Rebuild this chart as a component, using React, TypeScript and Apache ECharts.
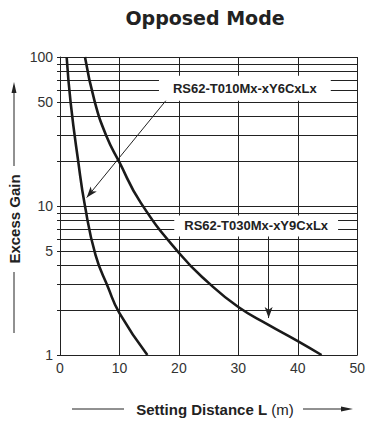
import React, { useEffect, useRef } from "react";
import * as echarts from "echarts";

// Curve RS62-T010Mx-xY6CxLx : setting distance (m) vs excess gain
const distanceT010 = [1.12, 1.8, 3.06, 4.18, 5.97, 8.08, 10, 14.7];
const gainT010 = [100, 49, 20, 10.1, 4.7, 2.85, 1.91, 1];
// Curve RS62-T030Mx-xY9CxLx
const distanceT030 = [4.2, 5.85, 7.8, 9.9, 13.6, 20.1, 25, 30, 35, 40, 44];
const gainT030 = [100, 50, 29.5, 20, 10.5, 4.8, 3.05, 2.1, 1.6, 1.24, 1];

const modelNames = ["RS62-T010Mx-xY6CxLx", "RS62-T030Mx-xY9CxLx"];
const gainGridValues = [1, 2, 3, 4, 5, 6, 7, 8, 9, 10, 20, 30, 40, 50, 60, 70, 80, 90, 100];
const gainLabelValues = [1, 5, 10, 50, 100];

// annotation anchors in data coordinates [distance, gain]
const labelT010 = [31.1, 61.6];
const labelT030 = [33.0, 7.35];
const arrowT010 = [[18.06, 52.4], [4.5, 11.4]];
const arrowT030 = [[35.1, 6.55], [35.1, 1.77]];

const zip = (xs: number[], ys: number[]) => xs.map((x, i) => [x, ys[i]]);

const FONT = "'Liberation Sans', Arial, sans-serif";
const INK = "#222";

export default function App() {
  const ref = useRef<HTMLDivElement>(null);
  useEffect(() => {
    if (!ref.current) return;
    const chart = echarts.init(ref.current, null, { renderer: "svg" });
    const curveStyle = { color: "#1a1a1a", width: 2.6 };
    chart.setOption({
      animation: false,
      grid: { left: 60, right: 9, top: 57, bottom: 69 },
      xAxis: {
        type: "value",
        min: 0,
        max: 50,
        interval: 10,
        axisLine: { show: true, lineStyle: { color: INK, width: 1 } },
        axisTick: { show: false },
        axisLabel: { color: "#333", fontSize: 14, fontFamily: FONT, margin: 6 },
        splitLine: { show: true, lineStyle: { color: INK, width: 1 } },
      },
      yAxis: {
        type: "log",
        logBase: 10,
        min: 1,
        max: 100,
        axisLine: { show: true, lineStyle: { color: INK, width: 1 } },
        axisTick: { show: true, length: 3, customValues: gainGridValues, lineStyle: { color: INK } },
        axisLabel: { customValues: gainLabelValues, color: "#333", fontSize: 14, fontFamily: FONT, margin: 7 },
        splitLine: { show: true, lineStyle: { color: INK, width: 1 } },
        minorTick: { show: false },
      },
      series: [
        {
          name: modelNames[0],
          type: "line",
          data: zip(distanceT010, gainT010),
          smooth: 0.5,
          symbol: "none",
          lineStyle: curveStyle,
          z: 3,
        },
        {
          name: modelNames[1],
          type: "line",
          data: zip(distanceT030, gainT030),
          smooth: 0.5,
          symbol: "none",
          lineStyle: curveStyle,
          z: 3,
        },
        {
          name: "annotations",
          type: "line",
          data: [],
          z: 4,
          markLine: {
            silent: true,
            symbol: ["none", "arrow"],
            symbolSize: [6, 11],
            label: { show: false },
            lineStyle: { color: INK, width: 1, type: "solid" },
            emphasis: { disabled: true },
            data: [
              [{ coord: arrowT010[0] }, { coord: arrowT010[1] }],
              [{ coord: arrowT030[0] }, { coord: arrowT030[1] }],
            ],
          },
          markPoint: {
            silent: true,
            symbol: "circle",
            symbolSize: 0,
            label: {
              show: true,
              position: "inside",
              formatter: (p: any) => p.name,
              color: INK,
              fontWeight: "bold",
              fontSize: 13,
              fontFamily: FONT,
              backgroundColor: "#fff",
              padding: [6, 14],
            },
            data: [
              { name: modelNames[0], coord: labelT010 },
              { name: modelNames[1], coord: labelT030, label: { padding: [4, 10] } },
            ],
          },
        },
      ],
      graphic: [
        {
          type: "text",
          x: 205,
          y: 18,
          style: {
            text: "Opposed Mode",
            fontSize: 19,
            fontWeight: "bold",
            fontFamily: "'DejaVu Sans', sans-serif",
            fill: INK,
            align: "center",
            verticalAlign: "middle",
            textAlign: "center",
            textVerticalAlign: "middle",
          },
        },
        {
          type: "text",
          x: 14,
          y: 219,
          rotation: Math.PI / 2,
          style: {
            text: "Excess Gain",
            fontSize: 15,
            fontWeight: "bold",
            fontFamily: FONT,
            fill: INK,
            align: "center",
            verticalAlign: "middle",
            textAlign: "center",
            textVerticalAlign: "middle",
          },
        },
        { type: "line", shape: { x1: 14, y1: 166, x2: 14, y2: 92 }, style: { stroke: INK, lineWidth: 1 } },
        { type: "polygon", shape: { points: [[14, 82], [11.5, 93], [16.5, 93]] }, style: { fill: INK } },
        { type: "line", shape: { x1: 14, y1: 272, x2: 14, y2: 333 }, style: { stroke: INK, lineWidth: 1 } },
        {
          type: "text",
          x: 215,
          y: 409,
          style: {
            text: "{b|Setting Distance L} {n|(m)}",
            rich: {
              b: { fontSize: 15, fontWeight: "bold", fontFamily: FONT, fill: INK, color: INK },
              n: { fontSize: 15, fontFamily: FONT, fill: INK, color: INK },
            },
            fontSize: 15,
            fontFamily: FONT,
            fill: INK,
            align: "center",
            verticalAlign: "middle",
            textAlign: "center",
            textVerticalAlign: "middle",
          },
        },
        { type: "line", shape: { x1: 72, y1: 409, x2: 124, y2: 409 }, style: { stroke: INK, lineWidth: 1 } },
        { type: "line", shape: { x1: 303, y1: 409, x2: 343, y2: 409 }, style: { stroke: INK, lineWidth: 1 } },
        { type: "polygon", shape: { points: [[353, 409], [341, 406.5], [341, 411.5]] }, style: { fill: INK } },
      ],
    });
    return () => chart.dispose();
  }, []);
  return (
    <div
      ref={ref}
      style={{ position: "fixed", left: 0, top: 0, width: 368, height: 424, background: "#fff" }}
    />
  );
}
